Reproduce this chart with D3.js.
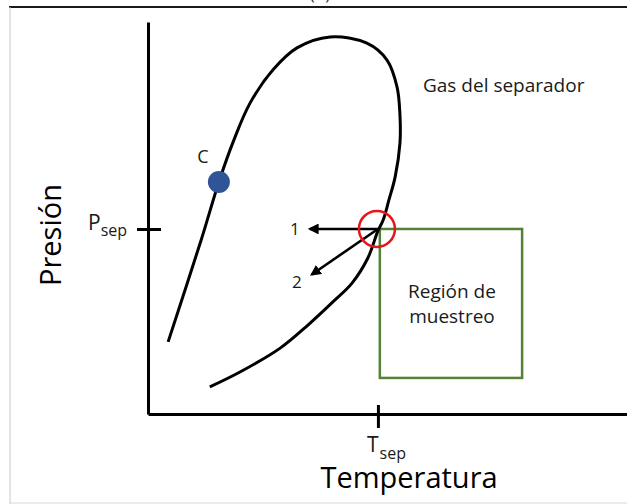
<!DOCTYPE html>
<html>
<head>
<meta charset="utf-8">
<script src="https://cdn.jsdelivr.net/npm/d3@7"></script>
<style>
  body { margin: 0; background: #fff; }
  svg { display: block; font-family: "Open Sans", sans-serif; }
</style>
</head>
<body>
<div class="graph"></div>
<script>
// Envelope points in (temperature, pressure) chart units, 0-100 on each axis
let envelopeT = [4.2, 11.1, 14.8, 17.9, 21.3, 26.1, 31.1, 38.0, 45.7, 49.9, 52.0, 52.6, 52.6, 51.6, 50.3, 49.1, 48.0, 45.9, 42.6, 38.6, 33.4, 27.6, 19.2, 12.9];
let envelopeP = [18.4, 44.4, 59.2, 69.8, 79.3, 87.8, 93.4, 96.2, 94.6, 90.3, 83.4, 76.3, 69.1, 60.5, 54.6, 49.5, 46.7, 39.8, 33.4, 28.6, 22.7, 16.8, 10.7, 6.9];

// Critical point and separator conditions
let critical = { t: 14.8, p: 59.2, label: "C" };
let separator = { t: 48.0, p: 47.2 };

// Arrow end points (paths 1 and 2 from the separator)
let arrowLabels = ["1", "2"];
let arrowEndT = [33.8, 34.2];
let arrowEndP = [47.2, 35.6];

// Sampling region box
let regionT = [48.4, 78.1];
let regionP = [47.2, 9.2];
let regionText = ["Región de", "muestreo"];

let width = 627;
let height = 504;

let svg = d3.select(".graph").append("svg")
  .attr("width", width)
  .attr("height", height);

// Scales
let x = d3.scaleLinear().domain([0, 100]).range([148, 627]);
let y = d3.scaleLinear().domain([0, 100]).range([414, 22]);

// Page frame
svg.append("line").attr("x1", 9).attr("x2", 627).attr("y1", 7).attr("y2", 7)
  .attr("stroke", "#1a1a1a").attr("stroke-width", 2);
svg.append("line").attr("x1", 10).attr("x2", 10).attr("y1", 7).attr("y2", 504)
  .attr("stroke", "#c8c8c8").attr("stroke-width", 1);
svg.append("line").attr("x1", 10).attr("x2", 627).attr("y1", 503).attr("y2", 503)
  .attr("stroke", "#d8d8d8").attr("stroke-width", 1);
svg.append("text").attr("x", 320).attr("y", 0).attr("text-anchor", "middle")
  .attr("font-size", 17).attr("fill", "#333").text("(b)");

svg.append("defs").append("marker")
  .attr("id", "head")
  .attr("viewBox", "0 0 10 10")
  .attr("refX", 8).attr("refY", 5)
  .attr("markerWidth", 4.2).attr("markerHeight", 4.2)
  .attr("markerUnits", "strokeWidth")
  .attr("orient", "auto")
  .append("path").attr("d", "M0,0 L10,5 L0,10 Z").attr("fill", "#000");

// Axes (plain lines, one tick each)
let xAxis = svg.append("g").attr("transform", "translate(0," + y(0) + ")")
  .call(d3.axisBottom(x).tickValues([separator.t]).tickFormat("").tickSize(14).tickSizeOuter(0));
let yAxis = svg.append("g").attr("transform", "translate(" + x(0) + ",0)")
  .call(d3.axisLeft(y).tickValues([separator.p]).tickFormat("").tickSize(12).tickSizeOuter(0));
[xAxis, yAxis].forEach(a => {
  a.select(".domain").attr("stroke", "#000").attr("stroke-width", 3);
  a.selectAll(".tick line").attr("stroke", "#000").attr("stroke-width", 3);
});
xAxis.selectAll(".tick line").attr("y1", -9).attr("y2", 14);
yAxis.selectAll(".tick line").attr("x1", 13).attr("x2", -11);

// Sampling region
svg.append("rect")
  .attr("x", x(regionT[0])).attr("y", y(regionP[0]))
  .attr("width", x(regionT[1]) - x(regionT[0]))
  .attr("height", y(regionP[1]) - y(regionP[0]))
  .attr("fill", "none").attr("stroke", "#548235").attr("stroke-width", 2.5);
svg.append("text")
  .attr("x", (x(regionT[0]) + x(regionT[1])) / 2 + 1)
  .attr("font-size", 19).attr("fill", "#1a1a1a").attr("text-anchor", "middle")
  .selectAll("tspan").data(regionText).join("tspan")
  .attr("x", (x(regionT[0]) + x(regionT[1])) / 2 + 1)
  .attr("y", (d, i) => 298 + i * 25)
  .text(d => d);

// Phase envelope
let line = d3.line().x(d => x(d[0])).y(d => y(d[1])).curve(d3.curveCatmullRom.alpha(0.5));
svg.append("path")
  .datum(d3.zip(envelopeT, envelopeP))
  .attr("d", line)
  .attr("fill", "none").attr("stroke", "#000").attr("stroke-width", 3);

// Arrows
svg.selectAll(".arrow").data(arrowLabels).join("line")
  .attr("class", "arrow")
  .attr("x1", x(separator.t)).attr("y1", y(separator.p))
  .attr("x2", (d, i) => x(arrowEndT[i])).attr("y2", (d, i) => y(arrowEndP[i]))
  .attr("stroke", "#000").attr("stroke-width", 2.6)
  .attr("marker-end", "url(#head)");
svg.selectAll(".alabel").data(arrowLabels).join("text")
  .attr("class", "alabel")
  .attr("x", (d, i) => x(arrowEndT[i]) - 15)
  .attr("y", (d, i) => y(arrowEndP[i]) + (i === 0 ? 6 : 14))
  .attr("text-anchor", "middle").attr("font-size", 17).attr("fill", "#1a1a1a")
  .text(d => d);

// Separator circle
svg.append("circle")
  .attr("cx", x(separator.t) - 1).attr("cy", y(separator.p))
  .attr("r", 18).attr("fill", "none").attr("stroke", "#e8141b").attr("stroke-width", 2.5);

// Critical point
svg.append("circle")
  .attr("cx", x(critical.t)).attr("cy", y(critical.p))
  .attr("r", 11).attr("fill", "#2f5597");
svg.append("text")
  .attr("x", x(critical.t) - 16).attr("y", y(critical.p) - 19)
  .attr("text-anchor", "middle").attr("font-size", 18).attr("fill", "#1a1a1a")
  .text(critical.label);

// Labels
svg.append("text").attr("x", 423).attr("y", 92)
  .attr("font-size", 19).attr("fill", "#1a1a1a").text("Gas del separador");

let pLab = svg.append("text").attr("x", 88).attr("y", 230).attr("fill", "#1a1a1a");
pLab.append("tspan").attr("font-size", 21).text("P");
pLab.append("tspan").attr("font-size", 16).attr("dy", 6).text("sep");

let tLab = svg.append("text").attr("x", 367).attr("y", 452).attr("fill", "#1a1a1a");
tLab.append("tspan").attr("font-size", 21).text("T");
tLab.append("tspan").attr("font-size", 16).attr("dy", 7).attr("dx", 1).text("sep");

svg.append("text").attr("x", 409).attr("y", 488).attr("text-anchor", "middle")
  .attr("font-size", 29).attr("fill", "#000").text("Temperatura");

svg.append("text")
  .attr("transform", "translate(61,235) rotate(-90)")
  .attr("text-anchor", "middle").attr("font-size", 29).attr("fill", "#000")
  .text("Presión");
</script>
</body>
</html>
